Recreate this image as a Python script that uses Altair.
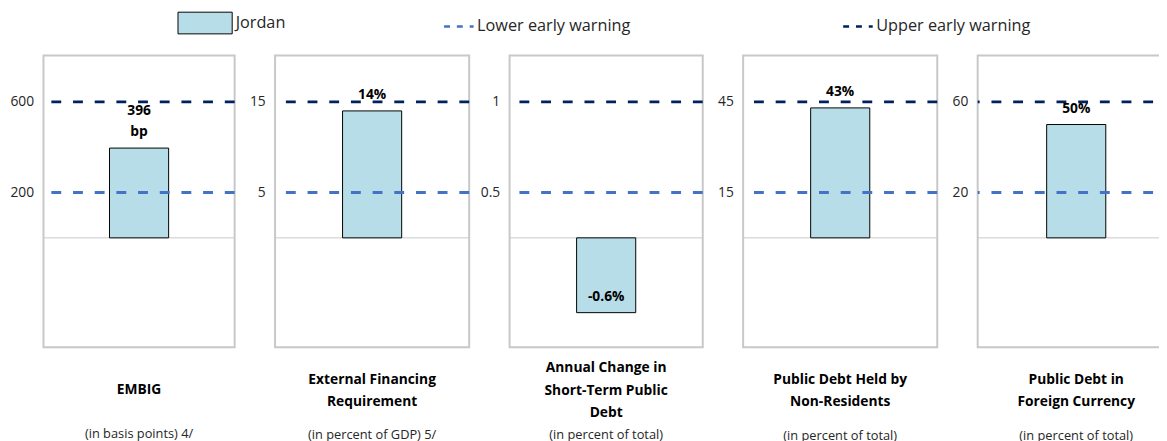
import altair as alt
import pandas as pd

# ---------------- data ----------------
indicators = ["EMBIG", "External Financing Requirement",
              "Annual Change in Short-Term Public Debt",
              "Public Debt Held by Non-Residents", "Public Debt in Foreign Currency"]
title_lines = [["EMBIG"], ["External Financing", "Requirement"],
               ["Annual Change in", "Short-Term Public", "Debt"],
               ["Public Debt Held by", "Non-Residents"],
               ["Public Debt in", "Foreign Currency"]]
subtitles = ["(in basis points) 4/", "(in percent of GDP) 5/", "(in percent of total)",
             "(in percent of total)", "(in percent of total)"]
jordan_values = [396, 14, -0.55, 43, 50]
value_labels = ["396\nbp", "14%", "-0.6%", "43%", "50%"]
lower_warning = [200, 5, 0.5, 15, 20]
upper_warning = [600, 15, 1, 45, 60]
series_name = "Jordan"
line_kinds = ["Lower early warning", "Upper early warning"]

# ---------------- style / layout ----------------
FONT = "Open Sans"
BAR_FILL = "#b7dee8"
LOWER_COL = "#4472c4"
UPPER_COL = "#002060"
H = 296
ZERO_PX = 185      # distance of zero line from top of panel
UPPER_PX = 138     # upper benchmark height above zero
LOWER_PX = 46      # lower benchmark height above zero
widths = [194, 197, 196, 197, 200]
title_offsets = [36, 26, 14, 26, 26]
sub_pads = [32, 20, 9, 21, 21]


def panel(i):
    U = upper_warning[i]
    L = lower_warning[i]
    yscale = alt.Scale(
        domain=[-U * (H - ZERO_PX) / UPPER_PX, 0, L, U, U * ZERO_PX / UPPER_PX],
        range=[H, ZERO_PX, ZERO_PX - LOWER_PX, ZERO_PX - UPPER_PX, 0],
        nice=False, zero=False)
    bar_df = pd.DataFrame({"indicator": [indicators[i]], "value": [jordan_values[i]],
                           "label": [value_labels[i]], "series": [series_name]})
    line_df = pd.DataFrame({"value": [L, U], "kind": line_kinds})
    zero_df = pd.DataFrame({"value": [0]})
    n_lines = value_labels[i].count("\n") + 1

    x = alt.X("indicator:N", axis=None)
    yaxis = alt.Axis(values=[L, U], labelExpr="toString(datum.value)", grid=False,
                     ticks=False, domain=False, labelPadding=10, labelFontSize=14,
                     labelFont=FONT, labelColor="#262626")
    y = alt.Y("value:Q", scale=yscale, title=None, axis=yaxis)

    zero = alt.Chart(zero_df).mark_rule(color="#c8c8c8", strokeWidth=1).encode(y=y)
    bars = alt.Chart(bar_df).mark_bar(size=60, stroke="black", strokeWidth=1).encode(
        x=x, y=y,
        fill=alt.Fill("series:N",
                      scale=alt.Scale(domain=[series_name], range=[BAR_FILL]),
                      legend=alt.Legend(title=None, orient="none", legendX=136, legendY=-61,
                                        symbolType="M-1,-0.4H1V0.4H-1Z", symbolSize=3025,
                                        symbolStrokeColor="black", symbolStrokeWidth=1,
                                        labelOffset=3, labelFontSize=16.5, labelFont=FONT,
                                        labelColor="#262626")))
    rules = alt.Chart(line_df).mark_rule(strokeWidth=3, strokeDash=[10, 12]).encode(
        y=y,
        stroke=alt.Stroke("kind:N",
                          scale=alt.Scale(domain=line_kinds, range=[LOWER_COL, UPPER_COL]),
                          legend=alt.Legend(title=None, orient="none", direction="horizontal",
                                            legendX=405, legendY=-46,
                                            symbolType="stroke", symbolSize=900,
                                            symbolDash=[6, 7], symbolStrokeWidth=2.5,
                                            labelOffset=2, columnPadding=210,
                                            labelFontSize=16.5, labelFont=FONT,
                                            labelColor="#262626")))
    text = alt.Chart(bar_df).mark_text(fontWeight="bold", fontSize=14, font=FONT,
                                       baseline="bottom", dy=-9 - 22 * (n_lines - 1),
                                       lineBreak="\n", lineHeight=22, color="black").encode(
        x=x, y=y, text="label:N")
    return alt.layer(zero, bars, rules, text).properties(
        width=widths[i], height=H,
        title=alt.TitleParams(text=title_lines[i], subtitle=subtitles[i], orient="bottom",
                              anchor="middle", frame="group", offset=title_offsets[i],
                              fontSize=14, fontWeight="bold", font=FONT, color="black",
                              lineHeight=23, subtitleFont=FONT, subtitleFontSize=13,
                              subtitleColor="#262626", subtitlePadding=sub_pads[i]))


chart = alt.hconcat(*[panel(i) for i in range(5)], spacing=41, bounds="flush").properties(
    title=alt.TitleParams("(indicators vis-à-vis risk assessment benchmarks, in 2019)",
                          fontSize=13, fontWeight="normal", font=FONT, color="#404040",
                          anchor="middle", offset=-14, dx=-7),
    padding={"top": -16, "left": 0, "right": -19, "bottom": 0},
).configure_view(stroke="#c8c8c8", strokeWidth=2).configure_concat(spacing=41)

chart.save("out.html", embed_options={"renderer": "svg", "actions": False})
